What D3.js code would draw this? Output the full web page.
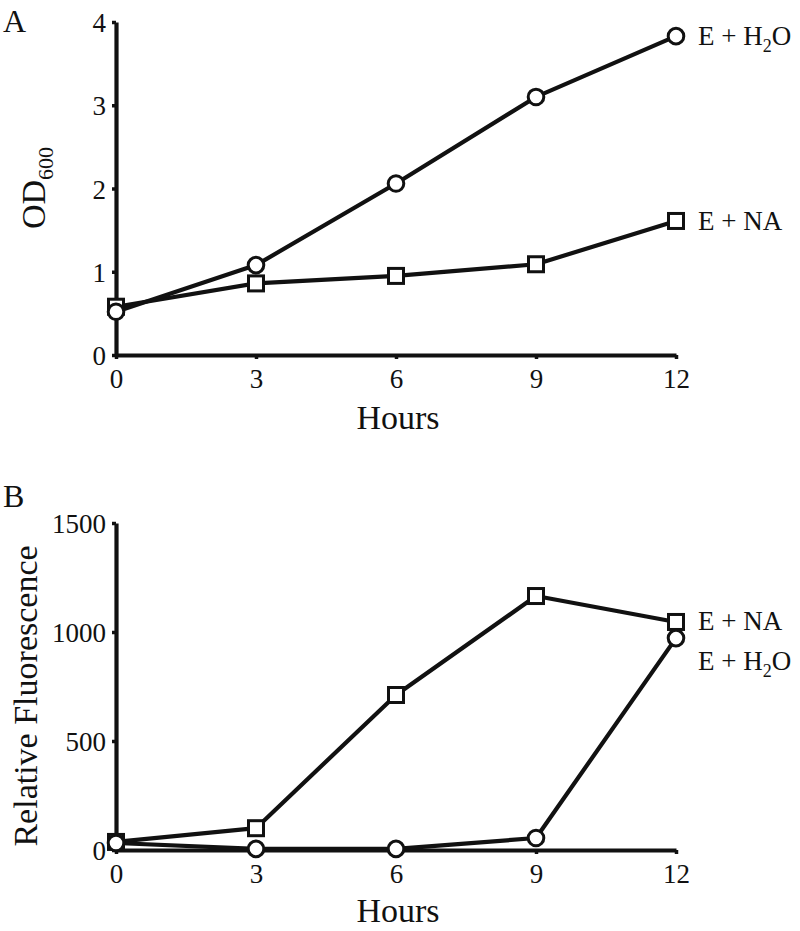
<!DOCTYPE html>
<html><head><meta charset="utf-8">
<script src="https://cdn.jsdelivr.net/npm/d3@7"></script>
<style>
html,body{margin:0;padding:0;background:#fff;}
svg{display:block;}
text{font-family:"Liberation Serif","Times New Roman",serif;fill:#111;}
</style></head>
<body><svg id="chart" width="800" height="931"></svg>
<script>
const hours = [0, 3, 6, 9, 12];
const hourTicks = [0, 3, 6, 9, 12];
const odH2O = [0.52, 1.08, 2.06, 3.10, 3.83];
const odNA = [0.58, 0.86, 0.95, 1.09, 1.61];
const odTicks = [0, 1, 2, 3, 4];
const fluNA = [37, 100, 711, 1165, 1046];
const fluH2O = [32, 5, 5, 55, 972];
const fluTicks = [0, 500, 1000, 1500];

const svg = d3.select("#chart");
const INK = "#111";

function panel(cfg) {
  const x = d3.scaleLinear().domain([0, 12]).range([116, 676]);
  const y = d3.scaleLinear().domain(cfg.yDomain).range([cfg.y0, cfg.yTop]);
  const g = svg.append("g");

  const ya = g.append("g").attr("transform", "translate(116,0)")
    .call(d3.axisLeft(y).tickValues(cfg.yTicks).tickFormat(d3.format("d"))
      .tickSize(4).tickSizeOuter(0).tickPadding(6));
  const xa = g.append("g").attr("transform", `translate(0,${cfg.y0})`)
    .call(d3.axisBottom(x).tickValues(hourTicks).tickFormat(d3.format("d"))
      .tickSize(4).tickSizeOuter(0).tickPadding(8));
  [ya, xa].forEach(a => {
    a.select(".domain").attr("stroke", INK).attr("stroke-width", 4.2);
    a.selectAll(".tick line").attr("stroke", INK).attr("stroke-width", 3.5);
    a.selectAll(".tick text").style("font-family", '"Liberation Serif","Times New Roman",serif')
      .style("font-size", "27px").attr("fill", INK);
  });
  ya.selectAll(".tick text").attr("dy", "0.36em");
  xa.selectAll(".tick text").attr("dy", "0.78em");

  const line = d3.line().x((d, i) => x(hours[i])).y(d => y(d));
  g.append("path").datum(cfg.na).attr("d", line).attr("fill", "none")
    .attr("stroke", INK).attr("stroke-width", 4.2).attr("stroke-linejoin", "round");
  g.append("path").datum(cfg.h2o).attr("d", line).attr("fill", "none")
    .attr("stroke", INK).attr("stroke-width", 4.2).attr("stroke-linejoin", "round");
  g.selectAll(".sq").data(cfg.na).enter().append("rect")
    .attr("x", (d, i) => x(hours[i]) - 7.5).attr("y", d => y(d) - 7.5)
    .attr("width", 15).attr("height", 15)
    .attr("fill", "#fff").attr("stroke", INK).attr("stroke-width", 3);
  g.selectAll(".ci").data(cfg.h2o).enter().append("circle")
    .attr("cx", (d, i) => x(hours[i])).attr("cy", d => y(d)).attr("r", 7.8)
    .attr("fill", "#fff").attr("stroke", INK).attr("stroke-width", 3);

  const lbl = (yy, kind) => {
    const t = g.append("text").attr("x", 698).attr("y", yy).style("font-size", "27px");
    if (kind === "h2o") {
      t.append("tspan").text("E + H");
      t.append("tspan").attr("dy", 7).style("font-size", "18px").text("2");
      t.append("tspan").attr("dy", -7).text("O");
    } else {
      t.text("E + NA");
    }
  };
  lbl(cfg.h2oLabelY, "h2o");
  lbl(cfg.naLabelY, "na");

  g.append("text").attr("x", 398).attr("y", cfg.xTitleY).attr("text-anchor", "middle")
    .style("font-size", "34px").text("Hours");

  g.append("text").attr("x", 3).attr("y", cfg.letterY).style("font-size", "32px").text(cfg.letter);
  return g;
}

const gA = panel({
  yDomain: [0, 4], y0: 355, yTop: 22, yTicks: odTicks,
  na: odNA, h2o: odH2O, h2oLabelY: 45, naLabelY: 230,
  xTitleY: 429, letter: "A", letterY: 32
});
const tA = gA.append("text").attr("transform", "translate(45,188) rotate(-90)")
  .attr("text-anchor", "middle").style("font-size", "34px");
tA.append("tspan").text("OD");
tA.append("tspan").attr("dy", 8).style("font-size", "22px").text("600");

const gB = panel({
  yDomain: [0, 1500], y0: 850, yTop: 523, yTicks: fluTicks,
  na: fluNA, h2o: fluH2O, h2oLabelY: 670, naLabelY: 630,
  xTitleY: 922, letter: "B", letterY: 507
});
gB.append("text").attr("transform", "translate(37,696) rotate(-90)")
  .attr("text-anchor", "middle").style("font-size", "34px").text("Relative Fluorescence");
</script></body></html>
